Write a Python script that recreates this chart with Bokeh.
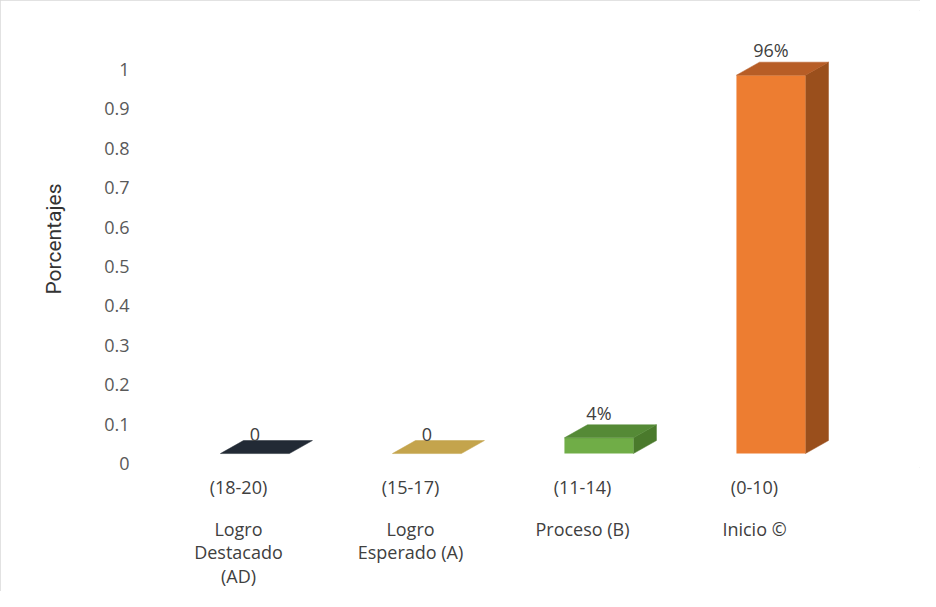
from bokeh.plotting import figure
from bokeh.models import (ColumnDataSource, FixedTicker, LinearAxis, Range1d,
                          InlineStyleSheet)
from bokeh.core.properties import value
from bokeh.embed import file_html
from bokeh.resources import INLINE

# ---------------- data ----------------
ranges = ["(18-20)", "(15-17)", "(11-14)", "(0-10)"]
levels = ["Logro\nDestacado\n(AD)", "Logro\nEsperado (A)", "Proceso (B)", "Inicio \u00a9"]
values = [0.0, 0.0, 0.04, 0.96]
value_labels = ["0", "0", "4%", "96%"]
y_ticks = [0, 0.1, 0.2, 0.3, 0.4, 0.5, 0.6, 0.7, 0.8, 0.9, 1]
y_tick_labels = ["0", "0.1", "0.2", "0.3", "0.4", "0.5", "0.6", "0.7", "0.8", "0.9", "1"]

# ---------------- style ----------------
front_colors = ["#222a35", "#c4a44c", "#70ad47", "#ed7d31"]
top_colors = ["#222a35", "#c4a44c", "#558a36", "#b75d26"]
side_colors = ["#1a212a", "#9c8238", "#4a7a2c", "#9a4f1c"]

BASE = 0.0253      # front face baseline (3D floor offset)
FL = -0.105        # front face left offset from slot centre
FW = 0.401         # front face width
DX = 0.134         # depth x
DY = 0.033         # depth y

xs = list(range(len(values)))
L = [x + FL for x in xs]
R = [x + FL + FW for x in xs]
B = [BASE for _ in xs]
T = [BASE + v for v in values]

top_xs = [[l, r, r + DX, l + DX] for l, r in zip(L, R)]
top_ys = [[t, t, t + DY, t + DY] for t in T]
side_xs = [[r, r, r + DX, r + DX] for r in R]
side_ys = [[BASE, t, t + DY, BASE + DY] for t in T]

nz = [i for i, v in enumerate(values) if v > 0]
src_side = ColumnDataSource(dict(xs=[side_xs[i] for i in nz], ys=[side_ys[i] for i in nz],
                                 color=[side_colors[i] for i in nz]))
src_front = ColumnDataSource(dict(left=L, right=R, bottom=B, top=T, color=front_colors))
src_top = ColumnDataSource(dict(xs=top_xs, ys=top_ys, color=top_colors))
src_lab = ColumnDataSource(dict(x=[l + FW / 2 for l in L], y=[t + DY for t in T],
                                text=value_labels))

p = figure(width=920, height=591,
           x_range=Range1d(-0.558, 3.965), y_range=Range1d(-0.0101, 1.1494),
           output_backend="svg", toolbar_location=None, x_axis_type=None,
           min_border_left=142, min_border_right=0, min_border_top=10,
           min_border_bottom=123)
p.stylesheets = [InlineStyleSheet(css=":host { outline: 1px solid #d9d9d9; outline-offset: -1px; }")]
p.background_fill_color = "white"
p.border_fill_color = "white"
p.outline_line_color = None
p.grid.visible = False

p.patches("xs", "ys", source=src_side, fill_color="color", line_color="color", line_width=0.5)
p.quad(left="left", right="right", bottom="bottom", top="top", source=src_front,
       fill_color="color", line_color=None)
p.patches("xs", "ys", source=src_top, fill_color="color", line_color="color", line_width=0.5)

p.text(x="x", y="y", text="text", source=src_lab, text_align="center",
       text_baseline="bottom", text_font=value("Open Sans"),
       text_font_size="18px", text_color="#404040")

# y axis
ya = p.yaxis[0]
ya.ticker = FixedTicker(ticks=y_ticks)
ya.major_label_overrides = dict(zip(y_ticks, y_tick_labels))
ya.axis_line_color = None
ya.major_tick_line_color = None
ya.minor_tick_line_color = None
ya.major_label_standoff = 7
ya.major_label_text_font = "Open Sans"
ya.major_label_text_font_size = "18px"
ya.major_label_text_color = "#595959"
ya.axis_label = "Porcentajes"
ya.axis_label_text_font = "Roboto"
ya.axis_label_text_font_style = "normal"
ya.axis_label_text_font_size = "21px"
ya.axis_label_text_color = "#333333"
ya.axis_label_standoff = 35

# x axes (two levels)
def make_xaxis(labels, standoff, lh):
    ax = LinearAxis(ticker=FixedTicker(ticks=xs),
                    major_label_overrides={i: s for i, s in zip(xs, labels)})
    ax.axis_line_color = None
    ax.major_tick_line_color = None
    ax.minor_tick_line_color = None
    ax.major_label_standoff = standoff
    ax.major_label_text_font = "Open Sans"
    ax.major_label_text_font_size = "18px"
    ax.major_label_text_color = "#404040"
    ax.major_label_text_line_height = lh
    return ax

p.add_layout(make_xaxis(ranges, 1, 1.2), "below")
p.add_layout(make_xaxis(levels, 9, 0.99), "below")

open("out.html", "w").write(file_html(p, INLINE))
